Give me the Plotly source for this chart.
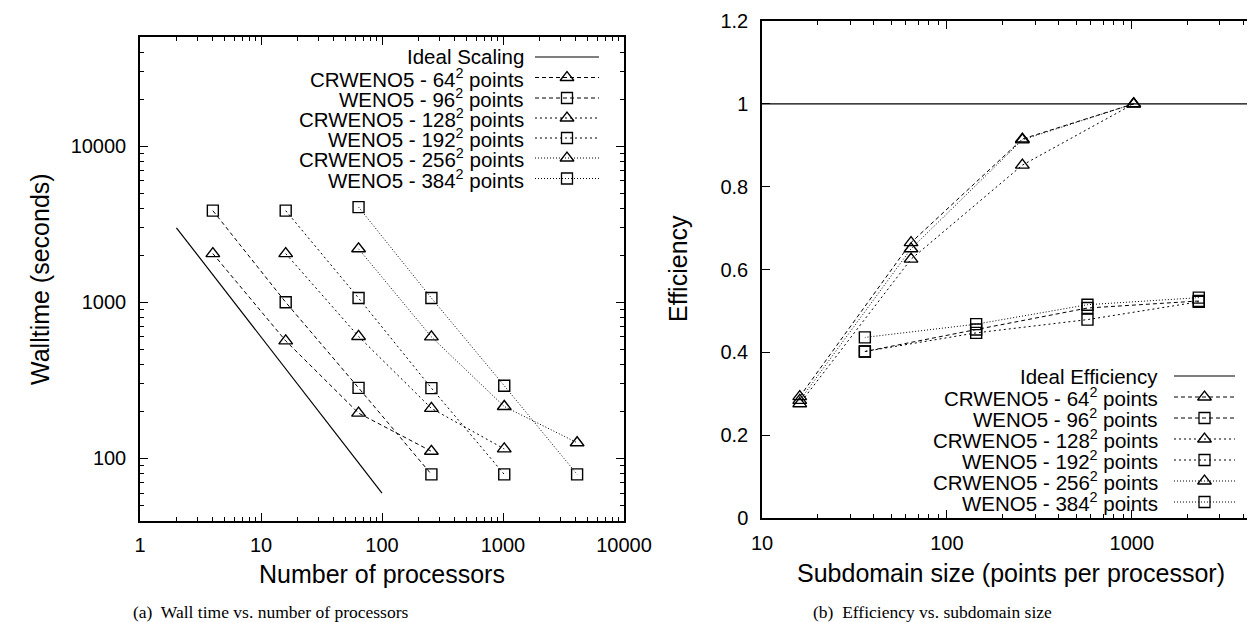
import plotly.graph_objects as go

W, H = 1255, 622

# ---------------- data: (a) walltime vs processors ----------------
ideal_p = [2, 100]
ideal_t = [3000, 60]

crw64_p = [4, 16, 64, 256]
crw64_t = [2050, 566, 195, 111]
weno96_p = [4, 16, 64, 256]
weno96_t = [3860, 1000, 283, 79]
crw128_p = [16, 64, 256, 1024]
crw128_t = [2050, 604, 209, 115]
weno192_p = [16, 64, 256, 1024]
weno192_t = [3860, 1064, 282, 79]
crw256_p = [64, 256, 1024, 4096]
crw256_t = [2200, 600, 215, 126]
weno384_p = [64, 256, 1024, 4096]
weno384_t = [4070, 1064, 292, 79]

# ---------------- data: (b) efficiency vs subdomain size ----------------
ideal_sub = [10, 5000]
ideal_eff = [1.0, 1.0]

tri_sub = [1024, 256, 64, 16]
sq_sub = [2304, 576, 144, 36]
crw64_eff = [1.0, 0.915, 0.665, 0.293]
weno96_eff = [0.524, 0.507, 0.455, 0.402]
crw128_eff = [1.0, 0.852, 0.625, 0.276]
weno192_eff = [0.522, 0.479, 0.447, 0.402]
crw256_eff = [1.0, 0.913, 0.650, 0.284]
weno384_eff = [0.532, 0.515, 0.468, 0.436]

names = [
    "CRWENO5 - 64<sup>2</sup> points",
    "WENO5 - 96<sup>2</sup> points",
    "CRWENO5 - 128<sup>2</sup> points",
    "WENO5 - 192<sup>2</sup> points",
    "CRWENO5 - 256<sup>2</sup> points",
    "WENO5 - 384<sup>2</sup> points",
]
x_ticks_a = [1, 10, 100, 1000, 10000]
y_ticks_a = [100, 1000, 10000]
x_ticks_b = [10, 100, 1000]
y_ticks_b = [0, 0.2, 0.4, 0.6, 0.8, 1.0, 1.2]
y_ticktext_b = ["0", "0.2", "0.4", "0.6", "0.8", "1", "1.2"]

dashes = ["4px,3px", "4px,3px", "2px,3px", "2px,3px", "1px,2px", "1px,2px"]
symbols = ["triangle-up-open", "square-open"] * 3
msizes = [12, 11] * 3

left_series = [(crw64_p, crw64_t), (weno96_p, weno96_t), (crw128_p, crw128_t),
               (weno192_p, weno192_t), (crw256_p, crw256_t), (weno384_p, weno384_t)]
right_series = [(tri_sub, crw64_eff), (sq_sub, weno96_eff), (tri_sub, crw128_eff),
                (sq_sub, weno192_eff), (tri_sub, crw256_eff), (sq_sub, weno384_eff)]

BLACK = "black"
SANS = "Liberation Sans, Arial, Helvetica, sans-serif"
SERIF = "Liberation Serif, Times New Roman, serif"

fig = go.Figure()

# ideal lines
fig.add_trace(go.Scatter(x=ideal_p, y=ideal_t, mode="lines", line=dict(color=BLACK, width=1.2),
                         xaxis="x", yaxis="y", showlegend=False))
fig.add_trace(go.Scatter(x=ideal_sub, y=ideal_eff, mode="lines", line=dict(color=BLACK, width=1.2),
                         xaxis="x2", yaxis="y2", showlegend=False))

for i in range(6):
    xs, ys = left_series[i]
    fig.add_trace(go.Scatter(x=xs, y=ys, mode="lines+markers",
                             line=dict(color=BLACK, width=1, dash=dashes[i]),
                             marker=dict(symbol=symbols[i], size=msizes[i], color=BLACK,
                                         line=dict(color="#333", width=1.4)),
                             xaxis="x", yaxis="y", showlegend=False))
    xs, ys = right_series[i]
    fig.add_trace(go.Scatter(x=xs, y=ys, mode="lines+markers",
                             line=dict(color=BLACK, width=1, dash=dashes[i]),
                             marker=dict(symbol=symbols[i], size=msizes[i], color=BLACK,
                                         line=dict(color="#222", width=1.4)),
                             xaxis="x2", yaxis="y2", showlegend=False))

# ---------------- custom legends (pixel overlay axes) ----------------
annotations = []
legends = [
    dict(text_x=518, x1=527, x2=591, rows=[49, 69.5, 90, 110, 130, 150, 170.5], ideal="Ideal Scaling"),
    dict(text_x=1152, x1=1166, x2=1227, rows=[368, 389, 410, 431, 452, 473, 494], ideal="Ideal Efficiency"),
]
for lg in legends:
    labels = [lg["ideal"]] + names
    for j, lab in enumerate(labels):
        y = lg["rows"][j]
        annotations.append(dict(text=lab, x=lg["text_x"] / W, y=1 - y / H, xref="paper", yref="paper",
                                xanchor="right", yanchor="middle", showarrow=False,
                                font=dict(family=SANS, size=20.5, color=BLACK)))
        if j == 0:
            fig.add_trace(go.Scatter(x=[lg["x1"], lg["x2"]], y=[y, y], mode="lines",
                                     line=dict(color=BLACK, width=1.2), xaxis="x3", yaxis="y3",
                                     showlegend=False, hoverinfo="skip"))
        else:
            k = j - 1
            fig.add_trace(go.Scatter(x=[lg["x1"], lg["x2"]], y=[y, y], mode="lines",
                                     line=dict(color=BLACK, width=1, dash=dashes[k]), xaxis="x3", yaxis="y3",
                                     showlegend=False, hoverinfo="skip"))
            fig.add_trace(go.Scatter(x=[(lg["x1"] + lg["x2"]) / 2], y=[y], mode="markers",
                                     marker=dict(symbol=symbols[k], size=msizes[k], color=BLACK,
                                                 line=dict(color="#222", width=1.3)),
                                     xaxis="x3", yaxis="y3", showlegend=False, hoverinfo="skip"))

# axis titles and captions
def ann(text, x, y, size, family=SANS, angle=0):
    annotations.append(dict(text=text, x=x / W, y=1 - y / H, xref="paper", yref="paper",
                            xanchor="center", yanchor="middle", showarrow=False, textangle=angle,
                            font=dict(family=family, size=size, color=BLACK)))

ann("Walltime (seconds)", 32, 271, 25, angle=-90)
ann("Number of processors", 374, 566, 25)
ann("Efficiency", 670, 261, 25, angle=-90)
ann("Subdomain size (points per processor)", 1003, 565, 25)
ann("(a)  Wall time vs. number of processors", 262, 604, 17.5, family=SERIF)
ann("(b)  Efficiency vs. subdomain size", 924, 604, 17.5, family=SERIF)

def log_minor(lo, hi):
    v = []
    d = lo
    while d < hi:
        for m in range(2, 10):
            if lo <= m * d <= hi:
                v.append(m * d)
        d *= 10
    return v

common = dict(showline=True, linecolor=BLACK, linewidth=1.5, mirror="allticks", automargin=False,
              ticks="inside", ticklen=8, tickwidth=1, tickcolor=BLACK, showgrid=False, zeroline=False,
              tickfont=dict(family=SANS, size=20, color=BLACK))

fig.update_layout(
    template="none",
    width=W, height=H, margin=dict(l=0, r=0, t=0, b=0, autoexpand=False),
    paper_bgcolor="white", plot_bgcolor="rgba(0,0,0,0)", showlegend=False,
    xaxis=dict(type="log", range=[0, 4], domain=[132 / W, 616 / W], anchor="y",
               tickvals=x_ticks_a, ticktext=[str(v) for v in x_ticks_a], ticklabelstandoff=6,
               minor=dict(ticks="inside", ticklen=4, tickcolor=BLACK, tickvals=log_minor(1, 10000)),
               **common),
    yaxis=dict(type="log", range=[1.60206, 4.69897], domain=[1 - 512.5 / H, 1 - 29 / H], anchor="x",
               tickvals=y_ticks_a, ticktext=[str(v) for v in y_ticks_a], ticklabelstandoff=8,
               minor=dict(ticks="inside", ticklen=4, tickcolor=BLACK, tickvals=log_minor(10, 50000)),
               **common),
    xaxis2=dict(type="log", range=[1, 3.69897], domain=[754 / W, 1253 / W], anchor="y2",
                tickvals=x_ticks_b, ticktext=[str(v) for v in x_ticks_b], ticklabelstandoff=6,
                minor=dict(ticks="inside", ticklen=4, tickcolor=BLACK, tickvals=log_minor(10, 5000)),
                **common),
    yaxis2=dict(range=[0, 1.2], domain=[1 - 510 / H, 1 - 13 / H], anchor="x2",
                tickvals=y_ticks_b, ticktext=y_ticktext_b, ticklabelstandoff=8, **common),
    xaxis3=dict(range=[0, W], domain=[0, 1], anchor="y3", visible=False, fixedrange=True),
    yaxis3=dict(range=[H, 0], domain=[0, 1], anchor="x3", visible=False, fixedrange=True),
    annotations=annotations,
)

fig.write_html("out.html")
